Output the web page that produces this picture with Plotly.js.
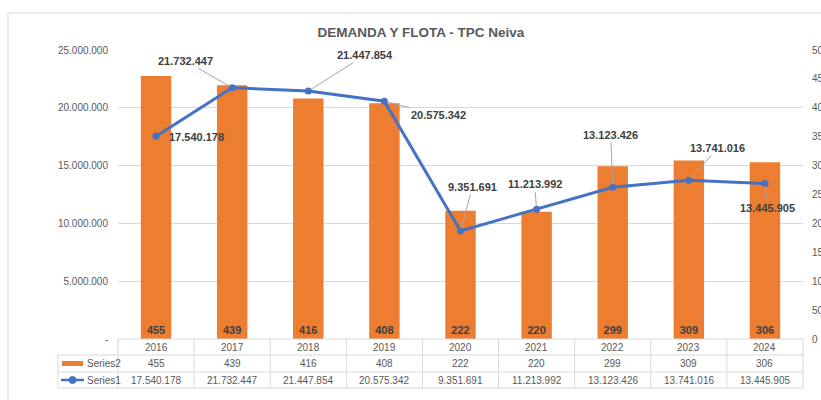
<!DOCTYPE html>
<html>
<head>
<meta charset="utf-8">
<script src="https://cdn.plot.ly/plotly-3.0.1.min.js"></script>
<style>
html,body{margin:0;padding:0;overflow:hidden;background:#fff;}
#chart{width:840px;height:400px;}
</style>
</head>
<body>
<div id="chart"></div>
<script>
// ---- data ----
const years = ['2016','2017','2018','2019','2020','2021','2022','2023','2024'];
const series2 = [455, 439, 416, 408, 222, 220, 299, 309, 306];           // bars (right axis)
const series1 = [17540178, 21732447, 21447854, 20575342, 9351691, 11213992, 13123426, 13741016, 13445905]; // line (left axis)
const leftTickVals = [0, 5000000, 10000000, 15000000, 20000000, 25000000];
const leftTickText = ['-', '5.000.000', '10.000.000', '15.000.000', '20.000.000', '25.000.000'];
const rightTickVals = [0, 50, 100, 150, 200, 250, 300, 350, 400, 450, 500];
const seriesNames = ['Series2', 'Series1'];
const chartTitle = 'DEMANDA Y FLOTA - TPC Neiva';

// label offsets (px) for line data labels: [ax, ay, showArrow]
const labelOffsets = [[39,1,false],[-47,-27,true],[57,-36,true],[54,14,true],[12,-44,true],[-2,-25,true],[-2,-52,true],[29,-32,true],[3,24,true]];

function fmt(n){ return String(n).replace(/\B(?=(\d{3})+(?!\d))/g, '.'); }

const FONT = 'Liberation Sans, Arial, sans-serif';
const GRAY = '#595959';
const LINEC = '#d9d9d9';
const ORANGE = '#ED7D31';
const BLUE = '#4472C4';

const bars = {
  type:'bar', x: years, y: series2, name: seriesNames[0], yaxis:'y', xaxis:'x',
  marker:{color: ORANGE},
  text: series2.map(String), textposition:'inside', insidetextanchor:'start', textangle:0,
  textfont:{family:FONT, size:11, color:'#404040', weight:'bold'},
  constraintext:'none', hoverinfo:'none'
};
const line = {
  type:'scatter', mode:'lines+markers', x: years, y: series1, name: seriesNames[1],
  yaxis:'y2', xaxis:'x',
  line:{color: BLUE, width:3}, marker:{color: BLUE, size:7, symbol:'circle'},
  hoverinfo:'none'
};

// plot area geometry in px (for paper conversions)
const PL = 118, PR = 803, PT = 50, PB = 339;
const pw = PR - PL, ph = PB - PT;
const px = v => (v - PL) / pw;
const py = v => (PB - v) / ph;

const annotations = [];
// line data labels (x given as category index)
series1.forEach((v, i) => {
  const o = labelOffsets[i];
  if (o[2]) {
    annotations.push({x: i, y: v, xref:'x', yref:'y2', text: fmt(v), showarrow:true,
      ax:o[0], ay:o[1], arrowhead:0, arrowwidth:1, arrowcolor:'#a6a6a6', standoff:3,
      xanchor:'center', yanchor:'middle',
      font:{family:FONT, size:11, color:'#404040', weight:'bold'}});
  } else {
    annotations.push({x: i, y: v, xref:'x', yref:'y2', text: fmt(v), showarrow:false,
      xanchor:'left', yanchor:'middle', xshift:11, yshift:-1,
      font:{family:FONT, size:11, color:'#404040', weight:'bold'}});
  }
});
// table text
const rowY = [347, 363.5, 380];
years.forEach((yr, i) => {
  annotations.push({x: i, y: py(rowY[0]), xref:'x', yref:'paper', text: yr, showarrow:false,
    xanchor:'center', yanchor:'middle', font:{family:FONT, size:10, color:GRAY}});
  annotations.push({x: i, y: py(rowY[1]), xref:'x', yref:'paper', text: String(series2[i]), showarrow:false,
    xanchor:'center', yanchor:'middle', font:{family:FONT, size:10, color:GRAY}});
  annotations.push({x: i, y: py(rowY[2]), xref:'x', yref:'paper', text: fmt(series1[i]), showarrow:false,
    xanchor:'center', yanchor:'middle', font:{family:FONT, size:10, color:GRAY}});
});
// legend text in table
annotations.push({x: px(85), y: py(rowY[1]), xref:'paper', yref:'paper', xanchor:'left', yanchor:'middle', text: seriesNames[0], showarrow:false,
  font:{family:FONT, size:10, color:GRAY}});
annotations.push({x: px(85), y: py(rowY[2]), xref:'paper', yref:'paper', xanchor:'left', yanchor:'middle', text: seriesNames[1], showarrow:false,
  font:{family:FONT, size:10, color:GRAY}});

const shapes = [];
// outer frame
shapes.push({type:'rect', xref:'paper', yref:'paper', x0:px(8), x1:px(835), y0:py(13), y1:py(420),
  line:{color:LINEC, width:1}, layer:'below'});
// table horizontal lines
shapes.push({type:'line', xref:'paper', yref:'paper', x0:0, x1:1, y0:0, y1:0, line:{color:LINEC, width:1}});
[355, 372, 388].forEach(yy => shapes.push({type:'line', xref:'paper', yref:'paper', x0:px(58), x1:1, y0:py(yy), y1:py(yy), line:{color:LINEC, width:1}}));
// table vertical lines
shapes.push({type:'line', xref:'paper', yref:'paper', x0:px(58), x1:px(58), y0:py(355), y1:py(388), line:{color:LINEC, width:1}});
for (let i = 0; i <= years.length; i++) {
  shapes.push({type:'line', xref:'paper', yref:'paper', x0:i/years.length, x1:i/years.length, y0:0, y1:py(388), line:{color:LINEC, width:1}});
}
// legend keys
shapes.push({type:'rect', xref:'paper', yref:'paper', x0:px(62), x1:px(83), y0:py(361), y1:py(366), fillcolor:ORANGE, line:{width:0}});
shapes.push({type:'line', xref:'paper', yref:'paper', x0:px(61), x1:px(84), y0:py(380), y1:py(380), line:{color:BLUE, width:2.5}});
shapes.push({type:'circle', xref:'paper', yref:'paper', x0:px(69), x1:px(76), y0:py(376.5), y1:py(383.5), fillcolor:BLUE, line:{color:BLUE, width:1}});

const layout = {
  width:840, height:400,
  margin:{l:PL, r:840-PR, t:PT, b:400-PB, pad:0},
  paper_bgcolor:'#fff', plot_bgcolor:'rgba(0,0,0,0)',
  showlegend:false,
  title:{text: chartTitle, font:{family:FONT, size:13.5, color:GRAY, weight:'bold'}, x:421/840, xref:'container', xanchor:'center', y:1-32/400, yref:'container', yanchor:'middle'},
  xaxis:{type:'category', range:[-0.5, 8.5], showticklabels:false, ticks:'', showgrid:false, zeroline:false, showline:false, fixedrange:true},
  yaxis:{side:'right', range:[0,500], tickvals:rightTickVals, ticktext:rightTickVals.map(String), showgrid:false, zeroline:false, showline:false, ticks:'',
    tickfont:{family:FONT, size:10, color:GRAY}, ticklabelstandoff:8},
  yaxis2:{overlaying:'y', side:'left', range:[0,25000000], tickvals:leftTickVals, ticktext:leftTickText, showgrid:true, gridcolor:LINEC, gridwidth:1,
    zeroline:false, showline:false, ticks:'', tickfont:{family:FONT, size:10, color:GRAY}, ticklabelstandoff:9},
  bargap:0.6,
  annotations: annotations,
  shapes: shapes
};

Plotly.newPlot('chart', [bars, line], layout, {staticPlot:true, displayModeBar:false});
</script>
</body>
</html>
